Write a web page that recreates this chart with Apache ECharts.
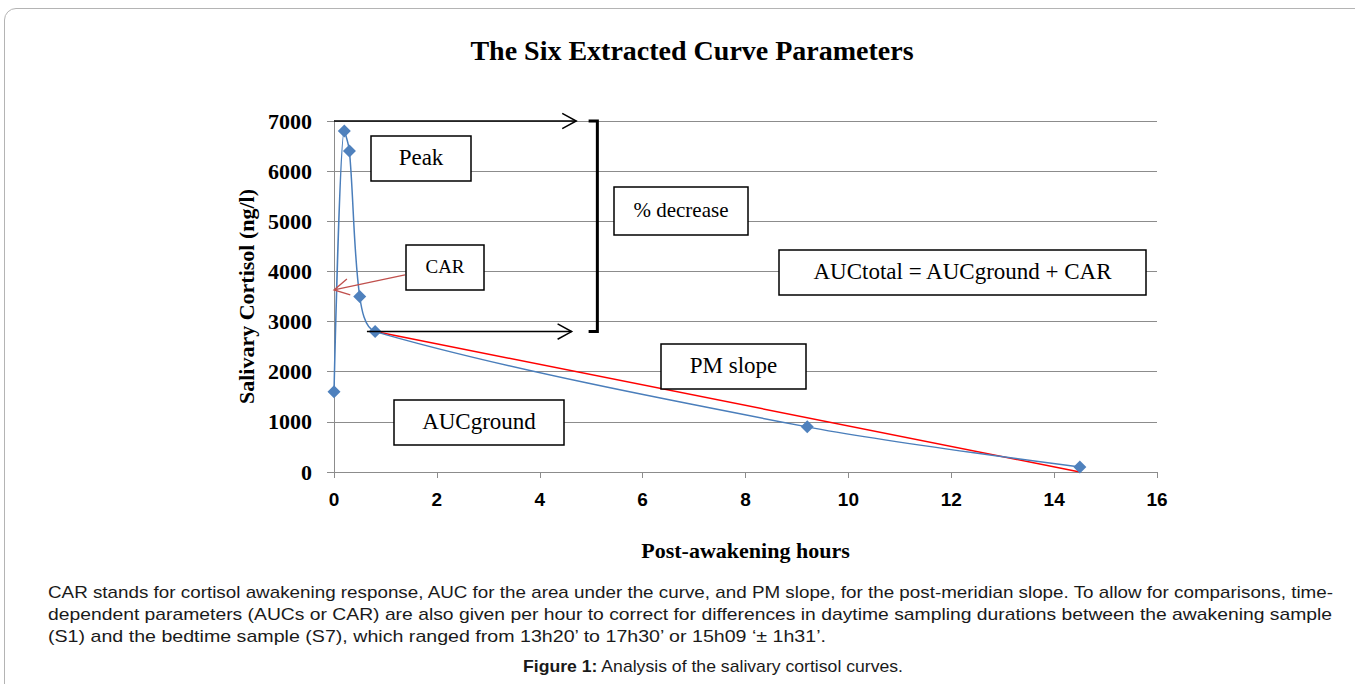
<!DOCTYPE html>
<html>
<head>
<meta charset="utf-8">
<script src="https://cdn.jsdelivr.net/npm/echarts@6/dist/echarts.min.js"></script>
<style>
  html, body { margin: 0; padding: 0; background: #fff; }
  #wrap { position: relative; width: 1355px; height: 684px; overflow: hidden; }
  #frame { position: absolute; left: 4px; top: 8px; width: 1420px; height: 740px;
           border: 1.5px solid #b4b4b4; border-radius: 12px 0 0 0; box-sizing: border-box; }
  #chart { position: absolute; left: 0; top: 0; width: 1355px; height: 684px; }
  .cap { position: absolute; left: 48px; font-family: "Liberation Sans", Arial, sans-serif;
         font-size: 17px; line-height: 20px; color: #1a1a1a; white-space: nowrap; transform-origin: 0 0; }
</style>
</head>
<body>
<div id="wrap">
  <div id="frame"></div>
  <div id="chart"></div>
  <div class="cap" data-w="1285" style="top:583px;">CAR stands for cortisol awakening response, AUC for the area under the curve, and PM slope, for the post-meridian slope. To allow for comparisons, time-</div>
  <div class="cap" data-w="1284" style="top:605px;">dependent parameters (AUCs or CAR) are also given per hour to correct for differences in daytime sampling durations between the awakening sample</div>
  <div class="cap" data-w="778" style="top:627px;">(S1) and the bedtime sample (S7), which ranged from 13h20’ to 17h30’ or 15h09 ‘± 1h31’.</div>
  <div class="cap" data-w="380" style="top:657px; left:523px;"><b>Figure 1:</b> Analysis of the salivary cortisol curves.</div>
</div>
<script>
// fit caption lines to the reference widths
document.querySelectorAll('.cap').forEach(el => {
  const w = el.getBoundingClientRect().width;
  const target = parseFloat(el.dataset.w);
  el.style.transform = 'scaleX(' + (target / w) + ')';
});

// ---- data ----
const hours = [0, 0.2, 0.3, 0.5, 0.8, 9.2, 14.5];
const cortisol = [1600, 6800, 6400, 3500, 2800, 900, 100];
const pmSlopeHours = [0.8, 14.5];
const pmSlopeValues = [2800, 0];
const chartTitle = 'The Six Extracted Curve Parameters';
const xName = 'Post-awakening hours';
const yName = 'Salivary Cortisol (ng/l)';

// annotation anchors in data coordinates
const topArrow = [[0, 7000], [4.71, 7000]];
const bottomArrow = [[0.64, 2800], [4.62, 2800]];
const bracketX = [4.95, 5.12];
const bracketY = [7000, 2800];
const carArrow = [[1.38, 3930], [0, 3630]];

const chart = echarts.init(document.getElementById('chart'), null, { renderer: 'svg' });

const serif = '"Liberation Serif", "Times New Roman", serif';
const sans = '"Liberation Sans", Arial, sans-serif';
const gridColor = '#8c8c8c';

chart.setOption({
  animation: false,
  backgroundColor: 'transparent',
  grid: { left: 334, right: 198, top: 121, bottom: 212, containLabel: false },
  xAxis: {
    type: 'value', min: 0, max: 16, interval: 2,
    name: xName, nameLocation: 'middle', nameGap: 67,
    nameTextStyle: { fontFamily: serif, fontWeight: 'bold', fontSize: 22, color: '#000' },
    axisLine: { show: true, lineStyle: { color: gridColor, width: 1 } },
    axisTick: { show: true, length: 6, lineStyle: { color: gridColor } },
    axisLabel: { fontFamily: sans, fontWeight: 'bold', fontSize: 19, color: '#000', margin: 18 },
    splitLine: { show: false }
  },
  yAxis: {
    type: 'value', min: 0, max: 7000, interval: 1000,
    name: yName, nameLocation: 'middle', nameGap: 76, nameRotate: 90,
    nameTextStyle: { fontFamily: serif, fontWeight: 'bold', fontSize: 22, color: '#000' },
    axisLine: { show: true, lineStyle: { color: gridColor, width: 1 } },
    axisTick: { show: true, length: 7, lineStyle: { color: gridColor } },
    axisLabel: { fontFamily: serif, fontWeight: 'bold', fontSize: 22, color: '#000', margin: 22,
                 formatter: v => String(v) },
    splitLine: { show: true, lineStyle: { color: gridColor, width: 1 } }
  },
  series: [
    {
      type: 'line', name: 'cortisol',
      data: hours.map((h, i) => [h, cortisol[i]]),
      smooth: 0.3,
      symbol: 'diamond', symbolSize: 13,
      lineStyle: { color: '#4a7ebb', width: 1.5 },
      itemStyle: { color: '#4f81bd' },
      z: 3
    },
    {
      type: 'line', name: 'PM slope',
      data: pmSlopeHours.map((h, i) => [h, pmSlopeValues[i]]),
      symbol: 'none',
      lineStyle: { color: '#ff0000', width: 1.5 },
      z: 2
    }
  ]
});

function px(p) { return chart.convertToPixel({ gridIndex: 0 }, p); }

function arrowGraphics(a, b, color, width, headLen) {
  const p0 = px(a), p1 = px(b);
  const ang = Math.atan2(p1[1] - p0[1], p1[0] - p0[0]);
  const s = 0.5;
  const h1 = [p1[0] - headLen * Math.cos(ang - s), p1[1] - headLen * Math.sin(ang - s)];
  const h2 = [p1[0] - headLen * Math.cos(ang + s), p1[1] - headLen * Math.sin(ang + s)];
  return [
    { type: 'line', z: 10, shape: { x1: p0[0], y1: p0[1], x2: p1[0], y2: p1[1] }, style: { stroke: color, lineWidth: width } },
    { type: 'polyline', z: 10, shape: { points: [h1, p1, h2] }, style: { stroke: color, lineWidth: width, fill: null } }
  ];
}

function box(x, y, w, h, text, size) {
  return [
    { type: 'rect', z: 20, shape: { x: x, y: y, width: w, height: h },
      style: { fill: '#fff', stroke: '#000', lineWidth: 1.5 } },
    { type: 'text', z: 21, style: { x: x + w / 2, y: y + h / 2 - 1, text: text, font: size + 'px ' + serif,
      fill: '#000', textAlign: 'center', textVerticalAlign: 'middle' } }
  ];
}

const bt = px([bracketX[1], bracketY[0]]);
const bb = px([bracketX[1], bracketY[1]]);
const bl = px([bracketX[0], bracketY[0]]);

const graphics = [
  { type: 'text', z: 30, style: { x: 692, y: 50, text: chartTitle, font: 'bold 28px ' + serif, fill: '#000', textAlign: 'center', textVerticalAlign: 'middle' } },
  ...arrowGraphics(topArrow[0], topArrow[1], '#000', 1.5, 16),
  ...arrowGraphics(bottomArrow[0], bottomArrow[1], '#000', 1.5, 16),
  ...arrowGraphics(carArrow[0], carArrow[1], '#c0504d', 1.3, 17),
  { type: 'polyline', z: 10, shape: { points: [[bl[0], bt[1]], [bt[0], bt[1]], [bb[0], bb[1]], [bl[0], bb[1]]] },
    style: { stroke: '#000', lineWidth: 3, fill: null } },
  ...box(371, 136, 100, 45, 'Peak', 23),
  ...box(406, 245, 78, 45, 'CAR', 19),
  ...box(614, 187, 134, 48, '% decrease', 21),
  ...box(779, 250, 367, 45, 'AUCtotal = AUCground + CAR', 23),
  ...box(661, 344, 145, 45, 'PM slope', 23),
  ...box(394, 400, 170, 45, 'AUCground', 23)
];

chart.setOption({ graphic: graphics });
</script>
</body>
</html>
